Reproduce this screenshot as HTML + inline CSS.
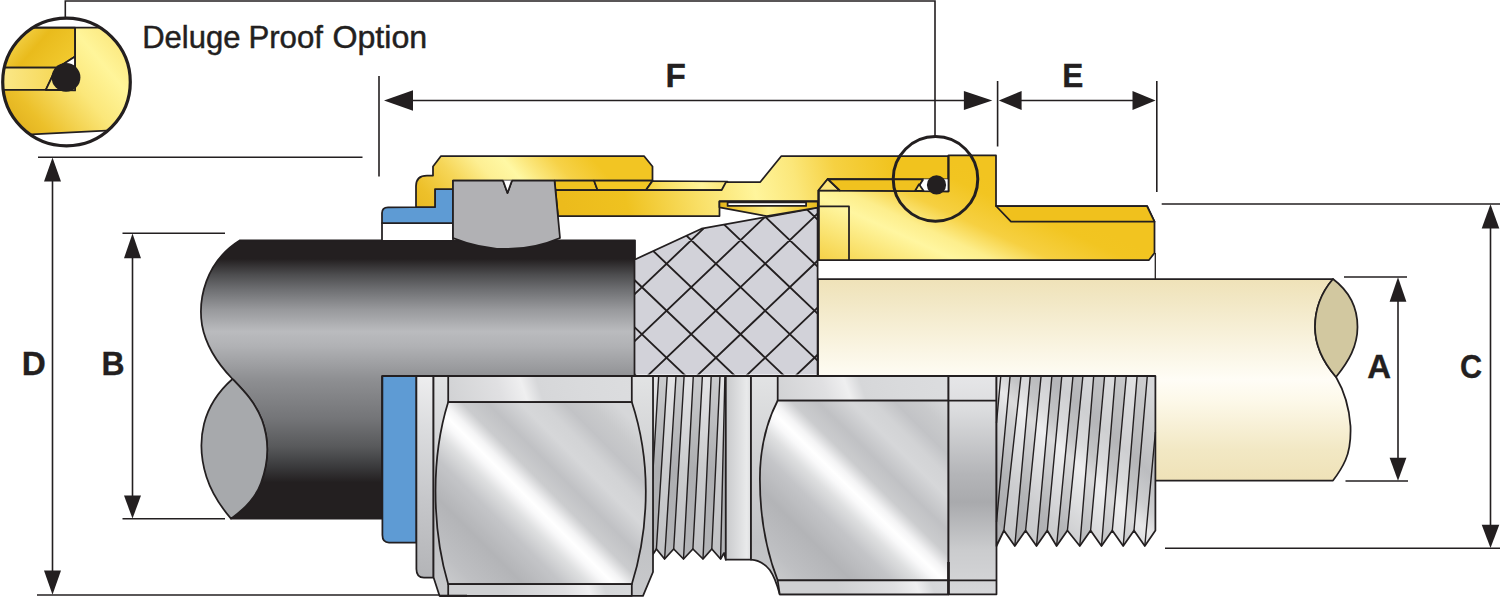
<!DOCTYPE html>
<html lang="en">
<head>
<meta charset="utf-8">
<title>Cable Gland Dimensions - Deluge Proof Option</title>
<style>
  html, body { margin: 0; padding: 0; background: #ffffff; }
  body { width: 1500px; height: 597px; overflow: hidden; font-family: "Liberation Sans", sans-serif; }
  svg { display: block; }
  text { font-family: "Liberation Sans", sans-serif; fill: #231f20; }
  .dim { font-weight: bold; font-size: 34px; stroke: #231f20; stroke-width: 0.35; }
  .ln { stroke: #231f20; stroke-width: 1.6; fill: none; }
  .o { stroke: #231f20; stroke-width: 1.75; stroke-linejoin: round; }
  .ar { fill: #231f20; }
</style>
</head>
<body>
<svg width="1500" height="597" viewBox="0 0 1500 597">
<defs>
  <!-- gold gradients -->
  <linearGradient id="gNutA" gradientUnits="userSpaceOnUse" x1="416" y1="207" x2="575.8" y2="68.1">
    <stop offset="0" stop-color="#e9ba22"/>
    <stop offset="0.08" stop-color="#edc02a"/>
    <stop offset="0.23" stop-color="#f6d658"/>
    <stop offset="0.36" stop-color="#fdef93"/>
    <stop offset="0.46" stop-color="#fff8a4"/>
    <stop offset="0.54" stop-color="#fbe67a"/>
    <stop offset="0.64" stop-color="#f6d248"/>
    <stop offset="0.78" stop-color="#f2c523"/>
    <stop offset="1" stop-color="#f2c523"/>
  </linearGradient>
  <linearGradient id="gBodyA" gradientUnits="userSpaceOnUse" x1="571" y1="240" x2="975" y2="150">
    <stop offset="0" stop-color="#ecbb1c"/>
    <stop offset="0.15" stop-color="#efc220"/>
    <stop offset="0.32" stop-color="#f9df66"/>
    <stop offset="0.46" stop-color="#fff59c"/>
    <stop offset="0.56" stop-color="#fbe77a"/>
    <stop offset="0.66" stop-color="#f6d142"/>
    <stop offset="0.8" stop-color="#f1c31e"/>
    <stop offset="1" stop-color="#f1c31e"/>
  </linearGradient>
  <linearGradient id="gEntry" gradientUnits="userSpaceOnUse" x1="870" y1="300" x2="937" y2="154">
    <stop offset="0" stop-color="#f2c832"/>
    <stop offset="0.2" stop-color="#f8dc60"/>
    <stop offset="0.45" stop-color="#fff6a0"/>
    <stop offset="0.55" stop-color="#fdee8c"/>
    <stop offset="0.7" stop-color="#f6d041"/>
    <stop offset="0.9" stop-color="#f2c521"/>
    <stop offset="1" stop-color="#f2c420"/>
  </linearGradient>
  <linearGradient id="gBand" gradientUnits="userSpaceOnUse" x1="554" y1="0" x2="728" y2="0">
    <stop offset="0" stop-color="#efc11e"/>
    <stop offset="0.5" stop-color="#f4cb2c"/>
    <stop offset="0.62" stop-color="#f9de60"/>
    <stop offset="0.85" stop-color="#fff39a"/>
    <stop offset="1" stop-color="#fbe676"/>
  </linearGradient>
  <linearGradient id="gDet" gradientUnits="userSpaceOnUse" x1="10" y1="30" x2="125" y2="130">
    <stop offset="0" stop-color="#f6d95a"/>
    <stop offset="0.2" stop-color="#e9bb1c"/>
    <stop offset="0.42" stop-color="#f1c92e"/>
    <stop offset="0.72" stop-color="#fff394"/>
    <stop offset="1" stop-color="#f7dc62"/>
  </linearGradient>
  <linearGradient id="gDet2" gradientUnits="userSpaceOnUse" x1="0" y1="140" x2="130" y2="30">
    <stop offset="0" stop-color="#d9a514"/>
    <stop offset="0.25" stop-color="#ecc02a"/>
    <stop offset="0.55" stop-color="#fbe77a"/>
    <stop offset="0.75" stop-color="#fff59a"/>
    <stop offset="1" stop-color="#f9e170"/>
  </linearGradient>
  <!-- black cable -->
  <linearGradient id="gBlack" gradientUnits="userSpaceOnUse" x1="0" y1="240" x2="0" y2="518.6">
    <stop offset="0" stop-color="#231f20"/>
    <stop offset="0.068" stop-color="#231f20"/>
    <stop offset="0.125" stop-color="#4d4d4f"/>
    <stop offset="0.176" stop-color="#6d6e71"/>
    <stop offset="0.25" stop-color="#98999c"/>
    <stop offset="0.328" stop-color="#babbbe"/>
    <stop offset="0.38" stop-color="#b1b2b5"/>
    <stop offset="0.5" stop-color="#8e8f92"/>
    <stop offset="0.64" stop-color="#747578"/>
    <stop offset="0.743" stop-color="#58595b"/>
    <stop offset="0.81" stop-color="#3c3c3e"/>
    <stop offset="0.87" stop-color="#231f20"/>
    <stop offset="1" stop-color="#231f20"/>
  </linearGradient>
  <!-- cream cable -->
  <linearGradient id="gCream" gradientUnits="userSpaceOnUse" x1="0" y1="279" x2="0" y2="480">
    <stop offset="0" stop-color="#efe2b8"/>
    <stop offset="0.12" stop-color="#f2e8c6"/>
    <stop offset="0.5" stop-color="#fffdf6"/>
    <stop offset="0.6" stop-color="#fdf9ea"/>
    <stop offset="0.85" stop-color="#f2e8c4"/>
    <stop offset="1" stop-color="#efe2b8"/>
  </linearGradient>
  <!-- silver -->
  <linearGradient id="gSilv1" gradientUnits="userSpaceOnUse" x1="432" y1="584" x2="614" y2="402">
    <stop offset="0" stop-color="#cfd0d2"/>
    <stop offset="0.12" stop-color="#bebfc2"/>
    <stop offset="0.25" stop-color="#b3b4b7"/>
    <stop offset="0.36" stop-color="#c4c5c8"/>
    <stop offset="0.43" stop-color="#dedfe0"/>
    <stop offset="0.475" stop-color="#f8f8f9"/>
    <stop offset="0.5" stop-color="#ffffff"/>
    <stop offset="0.53" stop-color="#f4f4f5"/>
    <stop offset="0.58" stop-color="#cbccce"/>
    <stop offset="0.65" stop-color="#c0c1c4"/>
    <stop offset="0.74" stop-color="#d6d7d9"/>
    <stop offset="0.8" stop-color="#d2d3d5"/>
    <stop offset="0.86" stop-color="#c2c3c6"/>
    <stop offset="0.93" stop-color="#c9cacc"/>
    <stop offset="1" stop-color="#d6d7d9"/>
  </linearGradient>
  <linearGradient id="gSilv2" gradientUnits="userSpaceOnUse" x1="764.7" y1="584.6" x2="945.3" y2="401.4">
    <stop offset="0" stop-color="#cfd0d2"/>
    <stop offset="0.12" stop-color="#bebfc2"/>
    <stop offset="0.25" stop-color="#b3b4b7"/>
    <stop offset="0.36" stop-color="#c4c5c8"/>
    <stop offset="0.43" stop-color="#dedfe0"/>
    <stop offset="0.475" stop-color="#f8f8f9"/>
    <stop offset="0.5" stop-color="#ffffff"/>
    <stop offset="0.53" stop-color="#f4f4f5"/>
    <stop offset="0.58" stop-color="#cbccce"/>
    <stop offset="0.65" stop-color="#c0c1c4"/>
    <stop offset="0.74" stop-color="#d6d7d9"/>
    <stop offset="0.8" stop-color="#d2d3d5"/>
    <stop offset="0.86" stop-color="#c2c3c6"/>
    <stop offset="0.93" stop-color="#c9cacc"/>
    <stop offset="1" stop-color="#d6d7d9"/>
  </linearGradient>
  <linearGradient id="gSilvTop1" gradientUnits="userSpaceOnUse" x1="448" y1="420" x2="632" y2="360">
    <stop offset="0" stop-color="#cfd0d2"/>
    <stop offset="0.3" stop-color="#e0e0e2"/>
    <stop offset="0.42" stop-color="#efeff0"/>
    <stop offset="0.5" stop-color="#d6d7d9"/>
    <stop offset="0.7" stop-color="#d9dadc"/>
    <stop offset="1" stop-color="#dcdddf"/>
  </linearGradient>
  <linearGradient id="gSilvTop2" gradientUnits="userSpaceOnUse" x1="778" y1="420" x2="948" y2="360">
    <stop offset="0" stop-color="#cfd0d2"/>
    <stop offset="0.3" stop-color="#e0e0e2"/>
    <stop offset="0.42" stop-color="#efeff0"/>
    <stop offset="0.5" stop-color="#d6d7d9"/>
    <stop offset="0.7" stop-color="#d9dadc"/>
    <stop offset="1" stop-color="#dcdddf"/>
  </linearGradient>
  <linearGradient id="gEdge" gradientUnits="userSpaceOnUse" x1="0" y1="376" x2="0" y2="597">
    <stop offset="0" stop-color="#e2e3e4"/>
    <stop offset="0.4" stop-color="#cfd0d2"/>
    <stop offset="0.75" stop-color="#c1c2c5"/>
    <stop offset="1" stop-color="#c8c9cb"/>
  </linearGradient>
  <linearGradient id="gCollar" gradientUnits="userSpaceOnUse" x1="434" y1="376" x2="400" y2="578">
    <stop offset="0" stop-color="#eeeeef"/>
    <stop offset="0.25" stop-color="#dcdddf"/>
    <stop offset="0.6" stop-color="#c6c7ca"/>
    <stop offset="1" stop-color="#b2b3b6"/>
  </linearGradient>
  <linearGradient id="gThr1" gradientUnits="userSpaceOnUse" x1="0" y1="376" x2="0" y2="558">
    <stop offset="0" stop-color="#e2e3e4"/>
    <stop offset="0.35" stop-color="#c4c5c8"/>
    <stop offset="0.7" stop-color="#b4b5b8"/>
    <stop offset="1" stop-color="#c7c8cb"/>
  </linearGradient>
  <linearGradient id="gThr2" gradientUnits="userSpaceOnUse" x1="1000" y1="546" x2="1150" y2="390">
    <stop offset="0" stop-color="#aeafb2"/>
    <stop offset="0.25" stop-color="#babbbe"/>
    <stop offset="0.42" stop-color="#d6d7d9"/>
    <stop offset="0.52" stop-color="#e8e8e9"/>
    <stop offset="0.6" stop-color="#cdced0"/>
    <stop offset="0.72" stop-color="#bcbdc0"/>
    <stop offset="0.88" stop-color="#cacbcd"/>
    <stop offset="1" stop-color="#d6d7d9"/>
  </linearGradient>
  <linearGradient id="gRing" gradientUnits="userSpaceOnUse" x1="0" y1="376" x2="0" y2="594">
    <stop offset="0" stop-color="#e6e6e8"/>
    <stop offset="0.15" stop-color="#dcdddf"/>
    <stop offset="0.45" stop-color="#b4b5b8"/>
    <stop offset="0.58" stop-color="#a9aaad"/>
    <stop offset="0.8" stop-color="#cbccce"/>
    <stop offset="1" stop-color="#d6d7d9"/>
  </linearGradient>
  <linearGradient id="gStL" gradientUnits="userSpaceOnUse" x1="0" y1="376" x2="0" y2="560">
    <stop offset="0" stop-color="#e4e4e6"/>
    <stop offset="0.5" stop-color="#cbccce"/>
    <stop offset="1" stop-color="#c0c1c4"/>
  </linearGradient>
  <linearGradient id="gStD" gradientUnits="userSpaceOnUse" x1="0" y1="376" x2="0" y2="560">
    <stop offset="0" stop-color="#cbccce"/>
    <stop offset="0.5" stop-color="#adaeb1"/>
    <stop offset="1" stop-color="#b3b4b7"/>
  </linearGradient>
  <linearGradient id="gNeck" gradientUnits="userSpaceOnUse" x1="726" y1="0" x2="778" y2="0">
    <stop offset="0" stop-color="#c9cacc"/>
    <stop offset="0.4" stop-color="#e9eaeb"/>
    <stop offset="0.55" stop-color="#d2d3d5"/>
    <stop offset="1" stop-color="#bfc0c3"/>
  </linearGradient>
  <linearGradient id="gCone" gradientUnits="userSpaceOnUse" x1="719" y1="0" x2="818" y2="0">
    <stop offset="0" stop-color="#e3b41a"/>
    <stop offset="0.12" stop-color="#f0c52c"/>
    <stop offset="0.5" stop-color="#fdf08f"/>
    <stop offset="0.85" stop-color="#f3cc38"/>
    <stop offset="1" stop-color="#e8ba1e"/>
  </linearGradient>
  <linearGradient id="gDetB" gradientUnits="userSpaceOnUse" x1="0" y1="0" x2="56" y2="0">
    <stop offset="0" stop-color="#fbe88a"/>
    <stop offset="1" stop-color="#f6d858"/>
  </linearGradient>
  <clipPath id="cDet"><circle cx="66.5" cy="82" r="64"/></clipPath>
  <clipPath id="cBraid"><path d="M634.5,374.5 L634.5,259.7 L701.5,228.7 L767.5,216.8 L817.6,207.7 L817.6,374.5 Z"/></clipPath>
</defs>

<rect x="0" y="0" width="1500" height="597" fill="#ffffff"/>


<!-- black outer sheath cable -->
<path class="o" fill="url(#gBlack)" stroke-width="1.2" d="M240,240.3 L635,240.3 L635,376 L382,376 L382,518.6 L231,518.6 C246,508 256,497 261,483 C268,464 270,442 262,420 C255,402 244,391 232.5,379 C218,364 206,347 202,325 C198,300 205,262 240,240.3 Z"/>
<path class="o" fill="#a7a9ac" stroke-width="1.4" d="M232.5,379 C244,391 255,402 262,420 C270,442 268,464 261,483 C256,497 246,508 231,518.6 C221,507 212,494 206.5,477 C200.5,458 200,440 204,424 C209,404 220,390 232.5,379 Z"/>
<!-- cream inner cable -->
<path class="o" fill="url(#gCream)" stroke-width="1.8" d="M818,279 L1333,279 C1321,293 1315,310 1315,327 C1315,346 1323,362 1336,377 C1343,389 1349,404 1350.5,426 C1351,440 1349,452 1345.5,460 C1342,468 1338,474 1333,480.5 L1155,480.5 L1155,376 L818,376 Z"/>
<path class="o" fill="#d2c8a0" stroke-width="1.9" d="M1333,279 C1321,293 1315,310 1315,327 C1315,346 1323,362 1336,377 C1349,361 1357.5,346 1357.5,327 C1357.5,307 1349,291 1333,279 Z"/>
<!-- braid -->
<path fill="#d2d2d9" d="M634.5,374.5 L634.5,259.7 L701.5,228.7 L767.5,216.8 L817.6,207.7 L817.6,374.5 Z"/>
<g clip-path="url(#cBraid)"><path d="M99.7,-41.8 L691.2,522.2 M149.0,-41.8 L740.5,522.2 M198.2,-41.8 L789.8,522.2 M247.5,-41.8 L839.1,522.2 M296.9,-41.8 L888.4,522.2 M346.1,-41.8 L937.7,522.2 M395.5,-41.8 L987.0,522.2 M444.8,-41.8 L1036.3,522.2 M494.0,-41.8 L1085.6,522.2 M543.4,-41.8 L1134.9,522.2 M592.6,-41.8 L1184.2,522.2 M642.0,-41.8 L1233.5,522.2 M691.2,-41.8 L1282.8,522.2 M740.5,-41.8 L1332.1,522.2 M789.8,-41.8 L1381.4,522.2 M99.7,522.2 L691.2,-41.8 M149.0,522.2 L740.5,-41.8 M198.2,522.2 L789.8,-41.8 M247.5,522.2 L839.1,-41.8 M296.9,522.2 L888.4,-41.8 M346.1,522.2 L937.7,-41.8 M395.5,522.2 L987.0,-41.8 M444.8,522.2 L1036.3,-41.8 M494.0,522.2 L1085.6,-41.8 M543.4,522.2 L1134.9,-41.8 M592.6,522.2 L1184.2,-41.8 M642.0,522.2 L1233.5,-41.8 M691.2,522.2 L1282.8,-41.8 M740.5,522.2 L1332.1,-41.8 M789.8,522.2 L1381.4,-41.8 M839.1,522.2 L1430.7,-41.8 M888.5,522.2 L1480.0,-41.8" stroke="#231f20" stroke-width="1.85" fill="none"/></g>
<path class="o" fill="none" stroke-width="1.6" d="M634.5,376 L634.5,259.7 L701.5,228.7 L767.5,216.8 L817.6,207.7 L817.6,376"/>


<!-- blue seal (lower) -->
<path class="o" fill="#5e9bd4" d="M382.4,376 L416.4,376 L416.4,542.5 L389,542.5 Q382.4,542.5 382.4,535 Z"/>
<!-- collar -->
<path class="o" fill="url(#gCollar)" d="M416.4,376 L433.5,376 L433.5,577.7 L424,577.7 Q416.4,577.7 416.4,569 Z"/>
<!-- thread 1 -->
<path fill="url(#gThr1)" d="M652.5,376 L725.8,376 L725.8,559.7 L724,553 L720.6,559.0 L711.8,549.0 L703.0,559.0 L692.9,549.0 L683.5,559.0 L673.7,549.0 L664.6,559.0 L656.4,549.0 L652.5,555 Z"/>
<path fill="url(#gStL)" d="M667.2,376.0 L676.0,376.0 L664.6,559.0 L656.4,549.0 Z"/>
<path fill="url(#gStD)" d="M676.0,376.0 L684.1,376.0 L673.7,549.0 L664.6,559.0 Z"/>
<path fill="url(#gStL)" d="M684.1,376.0 L693.3,376.0 L683.5,559.0 L673.7,549.0 Z"/>
<path fill="url(#gStD)" d="M693.3,376.0 L702.4,376.0 L692.9,549.0 L683.5,559.0 Z"/>
<path fill="url(#gStL)" d="M702.4,376.0 L711.2,376.0 L703.0,559.0 L692.9,549.0 Z"/>
<path fill="url(#gStD)" d="M711.2,376.0 L720.0,376.0 L711.8,549.0 L703.0,559.0 Z"/>
<path fill="url(#gStL)" d="M720.0,376.0 L724.9,376.0 L720.6,559.0 L711.8,549.0 Z"/>
<path fill="url(#gStD)" d="M658.7,376 L667.2,376 L656.4,549 L652.5,555 L652.5,479 Z"/>
<path fill="url(#gStL)" d="M652.5,376 L658.7,376 L652.5,479 Z"/>
<path fill="url(#gStD)" d="M724.9,376 L725.8,376 L725.8,559.7 L724,553 L720.6,559 Z"/>

<path d="M658.7,376.0 L652.5,479.0 M667.2,376.0 L656.4,549.0 M676.0,376.0 L664.6,559.0 M684.1,376.0 L673.7,549.0 M693.3,376.0 L683.5,559.0 M702.4,376.0 L692.9,549.0 M711.2,376.0 L703.0,559.0 M720.0,376.0 L711.8,549.0 M724.9,376.0 L720.6,559.0" stroke="#231f20" stroke-width="1.4" fill="none"/>
<path class="o" fill="none" d="M652.5,376 L725.8,376 L725.8,559.7 L724,553 L720.6,559.0 L711.8,549.0 L703.0,559.0 L692.9,549.0 L683.5,559.0 L673.7,549.0 L664.6,559.0 L656.4,549.0 L652.5,555 Z"/>
<!-- nut 1 -->
<path class="o" fill="url(#gEdge)" d="M433.5,376 L653,376 L653,572 L643,595.8 L439.5,595.8 L433.5,577.2 Z"/>
<path class="o" fill="url(#gSilvTop1)" stroke-width="1.6" d="M448.2,376 L631.8,376 L631.8,402 L448.2,402 Z"/>
<path class="o" fill="url(#gSilv1)" stroke-width="1.6" d="M448.2,402 L631.8,402 C641,430 645.8,460 645.8,491 C645.8,525 641,555 631.8,584.2 L448.2,584.2 C439.5,555 435.5,525 435.5,491 C435.5,460 439.5,430 448.2,402 Z"/>
<path class="o" fill="url(#gSilvTop1)" stroke-width="1.6" d="M448.2,584.2 L631.8,584.2 L631.8,595.8 L448.2,595.8 Z"/>
<path d="M439.5,596 L467,596" stroke="#231f20" stroke-width="2.6"/>
<!-- neck between thread 1 and nut 2 -->
<path class="o" fill="url(#gNeck)" d="M725.8,376 L751,376 L751,559.7 L725.8,559.7 Z"/>
<path class="o" fill="url(#gEdge)" d="M751,376 L948.5,376 L948.5,594.3 L779.7,594.3 C777,584 774,576 769.8,570 C765,564 759,560.2 751,559.7 Z"/>
<!-- nut 2 -->
<path class="o" fill="url(#gSilvTop2)" stroke-width="1.6" d="M777.7,376 L948.5,376 L948.5,400.5 L777.7,400.5 Z"/>
<path class="o" fill="url(#gSilv2)" stroke-width="1.6" d="M777.7,400.5 L948.5,400.5 L948.5,580.4 L777.7,580.4 C765,548 759.9,515 759.9,479 C759.9,450 765,425 777.7,400.5 Z"/>
<path class="o" fill="url(#gSilvTop2)" stroke-width="1.6" d="M777.7,580.4 L948.5,580.4 L948.5,594.3 L779.7,594.3 Z"/>
<!-- ring right of nut 2 -->
<path class="o" fill="url(#gRing)" d="M948.5,376 L996.5,376 L996.5,594.3 L948.5,594.3 Z"/>
<path d="M948.5,400.5 L996.5,400.5 M948.5,580.4 L996.5,580.4" class="o" fill="none" stroke-width="1.4"/>
<path d="M948.5,562 L948.5,594.3" stroke="#231f20" stroke-width="2.6"/>
<!-- thread 2 -->
<path fill="url(#gThr2)" d="M996.5,376 L1155.4,376 L1155.4,530.5 L1144.8,546.0 L1134.0,530.5 L1123.2,546.0 L1112.3,530.5 L1101.5,546.0 L1090.6,530.5 L1079.8,546.0 L1067.4,530.5 L1056.6,546.0 L1047.3,530.5 L1036.5,546.0 L1025.6,530.5 L1014.8,546.0 L1003.9,530.5 L996.5,546.0 Z"/>
<path fill="#808285" fill-opacity="0.12" d="M1010.1,376.0 L1021.0,376.0 L1003.9,530.5 L996.5,522.0 Z"/>
<path fill="#ffffff" fill-opacity="0.28" d="M1021.0,376.0 L1030.3,376.0 L1014.8,546.0 L1003.9,530.5 Z"/>
<path fill="#808285" fill-opacity="0.12" d="M1030.3,376.0 L1041.1,376.0 L1025.6,530.5 L1014.8,546.0 Z"/>
<path fill="#ffffff" fill-opacity="0.28" d="M1041.1,376.0 L1051.9,376.0 L1036.5,546.0 L1025.6,530.5 Z"/>
<path fill="#808285" fill-opacity="0.12" d="M1051.9,376.0 L1061.8,376.0 L1047.3,530.5 L1036.5,546.0 Z"/>
<path fill="#ffffff" fill-opacity="0.28" d="M1061.8,376.0 L1073.0,376.0 L1056.6,546.0 L1047.3,530.5 Z"/>
<path fill="#808285" fill-opacity="0.12" d="M1073.0,376.0 L1082.9,376.0 L1067.4,530.5 L1056.6,546.0 Z"/>
<path fill="#ffffff" fill-opacity="0.28" d="M1082.9,376.0 L1093.7,376.0 L1079.8,546.0 L1067.4,530.5 Z"/>
<path fill="#808285" fill-opacity="0.12" d="M1093.7,376.0 L1104.6,376.0 L1090.6,530.5 L1079.8,546.0 Z"/>
<path fill="#ffffff" fill-opacity="0.28" d="M1104.6,376.0 L1115.4,376.0 L1101.5,546.0 L1090.6,530.5 Z"/>
<path fill="#808285" fill-opacity="0.12" d="M1115.4,376.0 L1126.3,376.0 L1112.3,530.5 L1101.5,546.0 Z"/>
<path fill="#ffffff" fill-opacity="0.28" d="M1126.3,376.0 L1137.1,376.0 L1123.2,546.0 L1112.3,530.5 Z"/>
<path fill="#808285" fill-opacity="0.12" d="M1137.1,376.0 L1147.3,376.0 L1134.0,530.5 L1123.2,546.0 Z"/>

<path d="M1000.8,376.0 L996.5,423.0 M1010.1,376.0 L996.5,522.0 M1021.0,376.0 L1003.9,530.5 M1030.3,376.0 L1014.8,546.0 M1041.1,376.0 L1025.6,530.5 M1051.9,376.0 L1036.5,546.0 M1061.8,376.0 L1047.3,530.5 M1073.0,376.0 L1056.6,546.0 M1082.9,376.0 L1067.4,530.5 M1093.7,376.0 L1079.8,546.0 M1104.6,376.0 L1090.6,530.5 M1115.4,376.0 L1101.5,546.0 M1126.3,376.0 L1112.3,530.5 M1137.1,376.0 L1123.2,546.0 M1147.3,376.0 L1134.0,530.5 M1155.4,432.0 L1144.8,546.0" stroke="#231f20" stroke-width="1.4" fill="none"/>
<path class="o" fill="none" d="M996.5,376 L1155.4,376 L1155.4,530.5 L1144.8,546.0 L1134.0,530.5 L1123.2,546.0 L1112.3,530.5 L1101.5,546.0 L1090.6,530.5 L1079.8,546.0 L1067.4,530.5 L1056.6,546.0 L1047.3,530.5 L1036.5,546.0 L1025.6,530.5 L1014.8,546.0 L1003.9,530.5 L996.5,546.0 Z"/>
<!-- centre line -->
<path d="M382.4,376 L1155.4,376" stroke="#231f20" stroke-width="2"/>


<!-- white box & blue seal (upper) -->
<path class="o" fill="#ffffff" d="M382,240 L382,223 L453,223 L453,240"/>
<path class="o" fill="#5e9bd4" d="M382,223 L382,213 Q382,207.5 388,207.3 L435,207 L435,189 L453,189 L453,223 Z"/>
<!-- upper compression nut -->
<path class="o" fill="url(#gNutA)" d="M441,156 L644,156 L652.5,166.5 L652.5,180.5 L453,180.5 L453,189 L435,189 L435,207 L416,207 L416,186 Q416,175.5 427,175.5 L433,175.5 L433,166.5 Z"/>
<!-- band pieces y 180.5 - 190 -->
<path class="o" fill="#efc220" d="M554.5,180.5 L594,180.5 L597.5,190 L555.5,190 Z"/>
<path class="o" fill="#f2c724" d="M594,180.5 L652.5,180.5 L646,190 L597.5,190 Z"/>
<path class="o" fill="url(#gBand)" d="M652.5,181 L727.5,181.5 L724,190 L646,190 Z"/>
<!-- main gold body (inner + middle nut) -->
<path class="o" fill="url(#gBodyA)" d="M555.5,190 L721.7,190 L726,182 L760.3,182 L781.4,156 L948.5,156 L948.5,179.3 L827.7,179 L818.6,190.3 L818.6,201 L719.5,201 L719.5,216 L558,216 Z"/>
<!-- cone ring -->
<path class="o" fill="url(#gCone)" d="M719.4,201.5 L817.8,201.5 L817.8,207.5 L766.8,216.2 L719.4,207.3 Z"/>
<path class="o" fill="#ffffff" stroke-width="1.3" d="M727.6,202.3 L806.1,202.3 L806.1,205.9 L727.6,205.9 Z"/>
<!-- entry body -->
<path class="o" fill="url(#gEntry)" d="M818.6,190.3 L948.5,191.3 L948.5,155.4 L996,155.4 L996,206 L1147,206 L1154.5,221.6 L1154.5,253 L1149,260 L818.6,260 Z"/>
<path class="o" fill="#f0c11d" d="M996,206 L1147,206 L1154.5,221.6 L1011,221.6 Z"/>
<path class="o" fill="none" d="M818.6,206.4 L849,206.4 L849,260"/>
<path d="M818.6,190.3 L818.6,260" stroke="#231f20" stroke-width="2"/>
<path d="M1155.3,253 L1155.3,279" stroke="#231f20" stroke-width="1.3"/>
<!-- seal ring pieces -->
<path class="o" fill="#fbe57a" d="M818.6,190.3 L827.7,179 L839.8,190.5 Z"/>
<path class="o" fill="#f0c21f" d="M827.7,179 L923.3,179.3 L915.9,191 L839.8,190.5 Z"/>
<path fill="#ffffff" d="M923.3,179.3 L948.5,179.3 L948.5,191.3 L915.9,191 Z"/>
<path class="o" fill="none" d="M923.3,179.3 L915.9,191 M948.5,155.4 L948.5,191.3 L915.9,191"/>
<path class="o" fill="#fbe57a" stroke-width="1.3" d="M915.1,190.8 L923.5,190.8 L919,184.3 Z"/>
<circle cx="936.5" cy="184.9" r="9.6" fill="#231f20"/>
<!-- grey block (clamp) -->
<path class="o" fill="#b1b1b4" d="M453,180.5 L503,180.5 L507.5,193 L512,180.5 L554.5,180.5 L560,238 Q508,260 453,238 Z"/>
<path class="o" fill="#ffffff" d="M503,180.5 L507.5,193 L512,180.5"/>
<!-- detail circle on gland -->
<circle cx="935.5" cy="178.9" r="42.3" fill="none" stroke="#231f20" stroke-width="3"/>


<!-- magnified detail (Deluge Proof Option) -->
<g clip-path="url(#cDet)">
  <rect x="0" y="15" width="135" height="135" fill="#ffffff"/>
  <path fill="url(#gDet2)" d="M0,27.6 L135,27.6 L135,129.3 L0,136 Z"/>
  <path class="o" fill="url(#gDet)" stroke-width="1.8" d="M0,27.6 L75.1,27.6 L75.1,56.4 L58,67.5 L0,67.5 Z"/>
  <path class="o" fill="url(#gDetB)" stroke-width="1.8" d="M0,67.5 L56.5,67.5 L45.8,89.8 L0,89.8 Z"/>
  <path class="o" fill="#fae47c" stroke-width="1.8" d="M56.5,67.5 L45.8,89.8 L66,89.8 L66,67.5 Z"/>
  <path class="o" fill="#ffffff" stroke-width="1.8" d="M75.1,56.4 L58,67.5 L75.1,67.5 Z"/>
  <path d="M75.1,27.6 L75.1,90.4 L45.8,89.8" class="o" fill="none" stroke-width="1.8"/>
  <path d="M0,27.6 L135,27.6 M0,136 L135,129.3" class="o" fill="none" stroke-width="1.8"/>
  <circle cx="66" cy="77.4" r="14.4" fill="#231f20"/>
</g>
<circle cx="66.5" cy="82" r="63.8" fill="none" stroke="#231f20" stroke-width="3.2"/>
<path class="ln" d="M65.3,18 L65.3,1 L935,1 L935,136.5" stroke-width="1.7"/>
<g font-size="31.4" stroke="#231f20" stroke-width="0.45">
  <text transform="translate(142.2,48.3) scale(0.988,1)">Deluge</text>
  <text transform="translate(248.4,48.3) scale(0.994,1)">Proof</text>
  <text transform="translate(332.4,48.3) scale(1.025,1)">Option</text>
</g>


<!-- dimension lines -->
<g class="ln">
  <path d="M379,76 L379,176.5"/>
  <path d="M997.6,81 L997.6,146.5"/>
  <path d="M1156.8,81 L1156.8,192"/>
  <path d="M400,100.5 L975,100.5"/>
  <path d="M1015,100.5 L1140,100.5"/>
  <path d="M38,157.3 L362.5,157.3"/>
  <path d="M37,595 L439,595"/>
  <path d="M52.5,175 L52.5,578"/>
  <path d="M122.5,233.3 L225,233.3"/>
  <path d="M122.5,518.8 L225,518.8"/>
  <path d="M132.5,250 L132.5,500"/>
  <path d="M1161.7,204 L1500,204"/>
  <path d="M1165,548.3 L1500,548.3"/>
  <path d="M1490.5,220 L1490.5,530"/>
  <path d="M1344,277 L1407,277"/>
  <path d="M1345.5,481 L1408,481"/>
  <path d="M1398,295 L1398,462"/>
</g>
<g class="ar">
  <path d="M384,100.5 L413,90.2 L413,110.8 Z"/>
  <path d="M992.3,100.5 L963.9,91 L963.9,110 Z"/>
  <path d="M998.8,100.5 L1021.6,91 L1021.6,110 Z"/>
  <path d="M1155.6,100.5 L1132.5,91 L1132.5,110 Z"/>
  <path d="M52.5,157.5 L44,181.5 L61,181.5 Z"/>
  <path d="M52.5,594.8 L44,570.6 L61,570.6 Z"/>
  <path d="M132.5,233.5 L124,258.3 L141,258.3 Z"/>
  <path d="M132.5,518.6 L124,495.5 L141,495.5 Z"/>
  <path d="M1490.5,204.2 L1481.7,228.5 L1499.3,228.5 Z"/>
  <path d="M1490.5,548.1 L1481.7,524.8 L1499.3,524.8 Z"/>
  <path d="M1398,277.2 L1389.6,301.8 L1406.4,301.8 Z"/>
  <path d="M1398,480.8 L1389.6,457.8 L1406.4,457.8 Z"/>
</g>
<text class="dim" transform="translate(675.8,86.5) scale(0.98,1)" text-anchor="middle">F</text>
<text class="dim" transform="translate(1072.9,86.7) scale(0.93,1)" text-anchor="middle">E</text>
<text class="dim" transform="translate(33.8,374.7) scale(0.98,1)" text-anchor="middle">D</text>
<text class="dim" transform="translate(113.1,374.7) scale(0.94,1)" text-anchor="middle">B</text>
<text class="dim" transform="translate(1379.2,377.6) scale(0.97,1)" text-anchor="middle">A</text>
<text class="dim" transform="translate(1471,377.6) scale(0.9,1)" text-anchor="middle">C</text>


</svg>
</body>
</html>
